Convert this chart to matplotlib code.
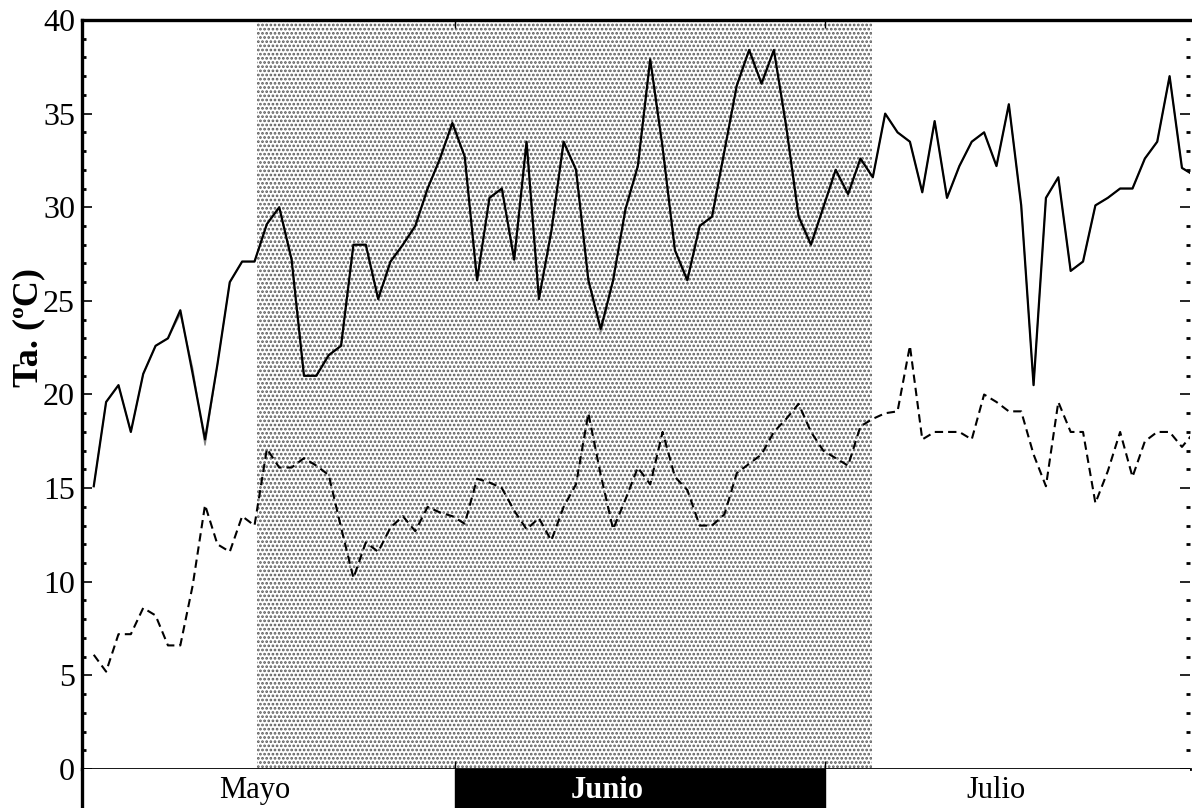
import numpy as np
import matplotlib
matplotlib.use('Agg')
import matplotlib.pyplot as plt
from matplotlib.ticker import MultipleLocator

plt.rcParams['font.family'] = 'Liberation Serif'
plt.rcParams['hatch.color'] = '#5a5a5a'
plt.rcParams['hatch.linewidth'] = 1.3

# daily series, 1 May onwards
dias = np.arange(1, 91)
tmax = [15.1, 19.6, 20.5, 18.0, 21.1, 22.6, 23.0, 24.5, 21.1, 17.6,
        21.6, 26.0, 27.1, 27.1, 29.1, 30.0, 27.2, 21.0, 21.0, 22.1,
        22.6, 28.0, 28.0, 25.1, 27.1, 28.0, 29.0, 31.0, 32.6, 34.5,
        32.7, 26.1, 30.5, 31.0, 27.2, 33.5, 25.1, 28.7, 33.5, 32.0,
        26.1, 23.5, 26.1, 29.9, 32.2, 37.9, 33.2, 27.7, 26.1, 29.0,
        29.5, 33.0, 36.5, 38.4, 36.6, 38.4, 34.3, 29.5, 28.0, 30.0,
        32.0, 30.7, 32.6, 31.6, 35.0, 34.0, 33.5, 30.8, 34.6, 30.5,
        32.2, 33.5, 34.0, 32.2, 35.5, 30.1, 20.5, 30.5, 31.6, 26.6,
        27.1, 30.1, 30.5, 31.0, 31.0, 32.6, 33.5, 37.0, 32.1, 31.7]
tmin = [6.1, 5.2, 7.2, 7.2, 8.6, 8.2, 6.6, 6.6, 9.8, 14.1,
        12.0, 11.6, 13.5, 13.0, 17.1, 16.1, 16.1, 16.6, 16.2, 15.7,
        12.9, 10.2, 12.1, 11.6, 12.9, 13.5, 12.7, 14.0, 13.7, 13.5,
        13.1, 15.5, 15.3, 15.0, 13.8, 12.8, 13.4, 12.2, 14.0, 15.2,
        19.0, 15.7, 12.8, 14.4, 16.1, 15.2, 18.0, 15.6, 14.9, 13.0,
        13.0, 13.6, 15.8, 16.3, 16.8, 18.0, 18.7, 19.5, 18.0, 17.0,
        16.6, 16.2, 18.3, 18.7, 19.0, 19.1, 22.6, 17.6, 18.0, 18.0,
        18.0, 17.6, 20.0, 19.6, 19.1, 19.1, 16.8, 15.1, 19.6, 18.0,
        18.0, 14.2, 15.9, 18.0, 15.6, 17.5, 18.0, 18.0, 17.2, 18.0]
# second max record, differs only on a few days
tmax_b = list(tmax)
tmax_b[7] = 24.3
tmax_b[8] = 21.4
tmax_b[9] = 17.3
tmax_b[41] = 23.3

meses = ['Mayo', 'Junio', 'Julio']
limites = [0.05, 30.2, 60.1, 89.65]
periodo = (14.2, 63.9)

fig = plt.figure(figsize=(11.92, 8.08), dpi=100)
ax = fig.add_axes([82/1192, 39/808, 1108/1192, 749/808])

ax.axvspan(periodo[0], periodo[1], facecolor='white', edgecolor='#5a5a5a',
           hatch='....', linewidth=0, zorder=0)
ax.plot(dias, tmax_b, color='#888888', lw=1.0, zorder=2)
ax.plot(dias, tmax, color='black', lw=1.6, zorder=3)
ax.plot(dias, tmin, color='black', lw=1.5, linestyle=(0, (4, 2.4)), zorder=3)

ax.set_xlim(limites[0], limites[-1])
ax.set_ylim(0, 40)
ax.yaxis.set_major_locator(MultipleLocator(5))
ax.yaxis.set_minor_locator(MultipleLocator(1))
ax.set_xticks(limites[1:3])
ax.set_xticklabels([])
ax.tick_params(axis='y', which='major', direction='in', length=7, width=1.2,
               right=True, labelsize=23, pad=5)
ax.tick_params(axis='y', which='minor', direction='in', length=3, width=2, right=True)
ax.tick_params(axis='x', which='major', direction='in', length=6, width=1.0, top=True)
ax.spines['right'].set_visible(False)
ax.spines['left'].set_linewidth(2.4)
ax.spines['top'].set_linewidth(2.4)
ax.spines['bottom'].set_linewidth(2.0)
ax.set_ylabel('Ta. (ºC)', fontsize=26, fontweight='bold')
ax.yaxis.set_label_coords(-0.033, 0.59)

# month bar under the axis
bar = fig.add_axes([82/1192, 0, 1108/1192, 39/808])
bar.set_xlim(limites[0], limites[-1])
bar.set_ylim(0, 1)
bar.axvspan(limites[1], limites[2], color='black')
bar.text(14.0, 0.45, meses[0], ha='center', va='center', fontsize=22)
bar.text(42.5, 0.45, meses[1], ha='center', va='center', fontsize=22,
         fontweight='bold', color='white')
bar.text(74.0, 0.45, meses[2], ha='center', va='center', fontsize=22)
bar.set_xticks([])
bar.set_yticks([])
for s in ['top', 'right', 'bottom']:
    bar.spines[s].set_visible(False)
bar.spines['left'].set_linewidth(2.4)

fig.savefig('out.png', dpi=100)
